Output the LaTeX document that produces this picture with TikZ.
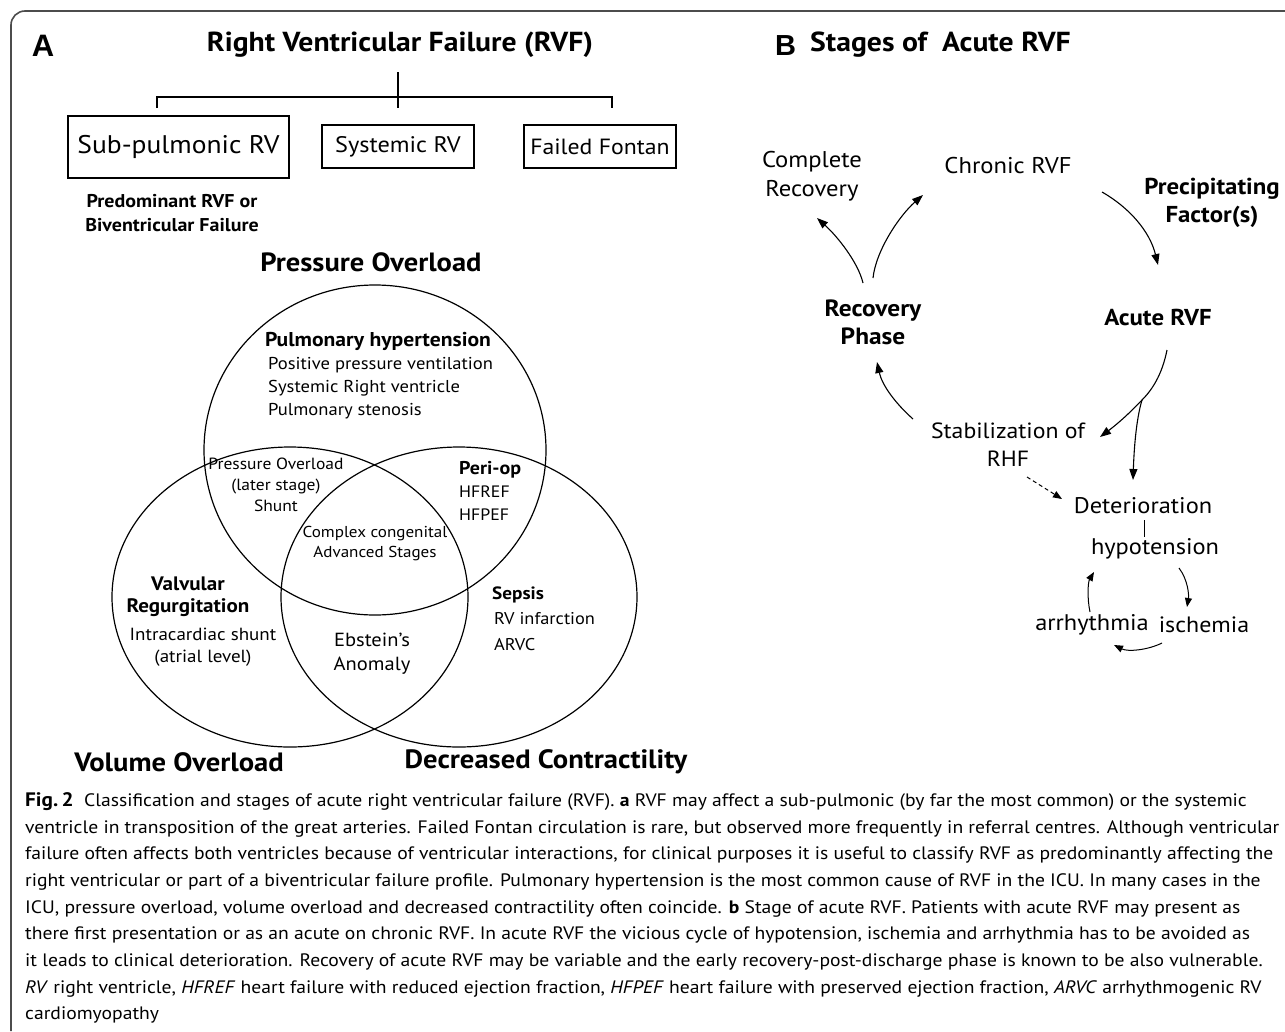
\documentclass[tikz,border=0pt]{standalone}
\usepackage{fontspec}
\setmainfont{PT Sans}[FakeStretch=1.08]
\newfontfamily\capf{PT Sans}[FakeStretch=1.09]
\newfontfamily\arialf{Liberation Sans}
\usetikzlibrary{arrows.meta}
\tikzset{
  txt/.style={inner sep=0pt, align=center, font=\fontsize{#1}{\fpeval{1.3*#1}}\selectfont},
  btxt/.style={inner sep=0pt, align=center, font=\fontsize{#1}{\fpeval{1.3*#1}}\selectfont\bfseries},
  captxt/.style={inner sep=0pt, anchor=base west, font=\capf\fontsize{18}{22}\selectfont},
  boxA/.style={draw, line width=1.1pt, inner sep=0pt},
  venn/.style={draw, line width=1.2pt},
  arr/.style={line width=1.1pt, -{Triangle[length=11pt,width=8pt]}},
  treeline/.style={line width=1.4pt},
  framel/.style={draw=black!70, line width=1.6pt}
}
\begin{document}
\begin{tikzpicture}[x=1pt,y=-1pt]
\useasboundingbox (0,0) rectangle (1285,1031);
% frame
\draw[framel] (11,1031) -- (11,25) arc[start angle=180,end angle=90,x radius=14,y radius=-14] -- (1290,11);

% ---------------- Panel A ----------------
\node[inner sep=0pt, font=\arialf\bfseries\fontsize{31}{31}\selectfont] (la) at (43,46) {A};
\node[btxt=27.5] (rvf) at (400,45) {Right Ventricular Failure (RVF)};
\coordinate (t0) at (398,72);
\coordinate (tl) at (157,97);
\coordinate (tr) at (612,97);
\coordinate (tlb) at (157,108);
\coordinate (trb) at (612,108);
\coordinate (tmb) at (398,108);
\draw[treeline] (t0) -- (tmb);
\draw[treeline] (tlb) -- (tl) -- (tr) -- (trb);

\node[boxA, minimum width=221pt, minimum height=62pt, txt=25.5] (sub) at (178.5,147) {Sub-pulmonic RV};
\node[boxA, minimum width=152pt, minimum height=43pt, txt=22.5] (sys) at (398,146.5) {Systemic RV};
\node[boxA, minimum width=152pt, minimum height=43pt, txt=22] (fon) at (600,146.5) {Failed Fontan};
\node[inner sep=0pt, align=center, font=\fontsize{18.5}{24}\selectfont\bfseries] (pred) at (172,213) {Predominant RVF or\\Biventricular Failure};

\node[btxt=26.4] (po) at (371,262) {Pressure Overload};

% Venn
\draw[venn] (375,450) ellipse [x radius=171, y radius=165];
\draw[venn] (290,597) ellipse [x radius=178, y radius=150];
\draw[venn] (459,597) ellipse [x radius=178, y radius=150];

\node[btxt=20] (ph) at (378,341) {Pulmonary hypertension};
\node[txt=17.2, anchor=west] (ppv) at (268,365) {Positive pressure ventilation};
\node[txt=17.2, anchor=west] (srv) at (268,388) {Systemic Right ventricle};
\node[txt=17.2, anchor=west] (ps) at (268,411) {Pulmonary stenosis};

\node[inner sep=0pt, align=center, font=\fontsize{16.2}{21}\selectfont] (pols) at (276,485) {Pressure Overload\\(later stage)\\Shunt};
\node[btxt=18.5, anchor=west] (periop) at (459,470) {Peri-op};
\node[txt=16.5, anchor=west] (hfref) at (459,492) {HFREF};
\node[txt=16.5, anchor=west] (hfpef) at (459,515) {HFPEF};
\node[inner sep=0pt, align=center, font=\fontsize{15.8}{20}\selectfont] (cc) at (375,544) {Complex congenital\\Advanced Stages};

\node[inner sep=0pt, align=center, font=\fontsize{19.5}{22}\selectfont\bfseries] (vr) at (188,597) {Valvular\\Regurgitation};
\node[inner sep=0pt, align=center, font=\fontsize{17.6}{22}\selectfont] (ics) at (203,647) {Intracardiac shunt\\(atrial level)};
\node[inner sep=0pt, align=center, font=\fontsize{19}{24}\selectfont] (eb) at (372,654) {Ebstein's\\Anomaly};
\node[btxt=17.8, anchor=west] (sep) at (492,595) {Sepsis};
\node[txt=17, anchor=west] (rvi) at (494,619) {RV infarction};
\node[txt=17, anchor=west] (arvc) at (494,645) {ARVC};

\node[btxt=26.5] (vo) at (179,762) {Volume Overload};
\node[btxt=26.5] (dc) at (546,762) {Decreased Contractility};

% ---------------- Panel B ----------------
\node[inner sep=0pt, anchor=west, font=\arialf\bfseries\fontsize{29}{29}\selectfont] (lb) at (775,46) {B};
\node[btxt=27.5, anchor=west] (stg) at (810,45) {Stages of\ \ Acute RVF};

\node[inner sep=0pt, align=center, font=\fontsize{22.8}{29}\selectfont] (cr) at (812,176) {Complete\\Recovery};
\node[txt=22.8] (chr) at (1008,166) {Chronic RVF};
\node[inner sep=0pt, align=center, font=\fontsize{23}{28}\selectfont\bfseries] (pf) at (1212,203) {Precipitating\\Factor(s)};
\node[inner sep=0pt, align=center, font=\fontsize{23.5}{28}\selectfont\bfseries] (rp) at (873,322) {Recovery\\Phase};
\node[btxt=23] (acute) at (1158,317) {Acute RVF};
\node[inner sep=0pt, align=center, font=\fontsize{22}{28}\selectfont] (stab) at (1008,445) {Stabilization of\\RHF};
\node[txt=22.6] (det) at (1143,506) {Deterioration};
\node[txt=22.6] (hypo) at (1155,549) {hypotension};
\node[txt=22.6] (arrh) at (1092,625) {arrhythmia};
\node[txt=22.2] (isch) at (1204,625) {ischemia};

% arrow end points
\coordinate (rpA) at (863,283);
\coordinate (crH) at (817,218);
\coordinate (rpB) at (873,278);
\coordinate (chH) at (923,195);
\coordinate (chT) at (1102,192);
\coordinate (acH) at (1158,265);
\coordinate (acT) at (1167,350);
\coordinate (br) at (1142,400);
\coordinate (stH) at (1100,437);
\coordinate (deH) at (1133,480);
\coordinate (stT) at (913,419);
\coordinate (rpH) at (877,362);
\coordinate (rhfT) at (1027,477);
\coordinate (deD) at (1062,499);
\coordinate (deB) at (1144,520);
\coordinate (hyT) at (1144,537);
\coordinate (hyR) at (1179,568);
\coordinate (isH) at (1187,607);
\coordinate (isT) at (1162,643);
\coordinate (arH) at (1114,645);
\coordinate (arT) at (1090,612);
\coordinate (hyH) at (1094,572);

\draw[arr] (rpA) .. controls (858,262) and (837,236) .. (crH);
\draw[arr] (rpB) .. controls (876,250) and (900,215) .. (chH);
\draw[arr] (chT) .. controls (1130,208) and (1150,232) .. (acH);
\draw[line width=1.1pt] (acT) .. controls (1162,375) and (1152,390) .. (br);
\draw[arr] (br) .. controls (1125,418) and (1112,428) .. (stH);
\draw[arr] (br) .. controls (1136,420) and (1134,450) .. (deH);
\draw[arr] (stT) .. controls (895,403) and (882,385) .. (rpH);
\draw[line width=1pt, dash pattern=on 4pt off 3pt, -{Triangle[length=9pt,width=7pt]}] (rhfT) -- (deD);
\draw[line width=0.8pt] (deB) -- (hyT);
\draw[line width=1pt, -{Triangle[length=9pt,width=7pt]}] (hyR) .. controls (1188,580) and (1189,595) .. (isH);
\draw[line width=1pt, -{Triangle[length=9pt,width=7pt]}] (isT) .. controls (1148,650) and (1128,652) .. (arH);
\draw[line width=1pt, -{Triangle[length=9pt,width=7pt]}] (arT) .. controls (1087,598) and (1088,582) .. (hyH);

% ---------------- Caption ----------------
\node[captxt] (c1) at (25,806) {{\fontsize{19.5}{22}\selectfont\bfseries Fig.\,2}\ \ Classification and stages of acute right ventricular failure (RVF). \textbf{a} RVF may affect a sub-pulmonic (by far the most common) or the systemic};
\node[captxt] (c2) at (25,833) {ventricle in transposition of the great arteries. Failed Fontan circulation is rare, but observed more frequently in referral centres. Although ventricular};
\node[captxt] (c3) at (25,859) {failure often affects both ventricles because of ventricular interactions, for clinical purposes it is useful to classify RVF as predominantly affecting the};
\node[captxt] (c4) at (25,886) {right ventricular or part of a biventricular failure profile. Pulmonary hypertension is the most common cause of RVF in the ICU. In many cases in the};
\node[captxt] (c5) at (25,913) {ICU, pressure overload, volume overload and decreased contractility often coincide. \textbf{b} Stage of acute RVF. Patients with acute RVF may present as};
\node[captxt] (c6) at (25,939) {there first presentation or as an acute on chronic RVF. In acute RVF the vicious cycle of hypotension, ischemia and arrhythmia has to be avoided as};
\node[captxt] (c7) at (25,966) {it leads to clinical deterioration. Recovery of acute RVF may be variable and the early recovery-post-discharge phase is known to be also vulnerable.};
\node[captxt] (c8) at (25,993) {\textit{RV} right ventricle, \textit{HFREF} heart failure with reduced ejection fraction, \textit{HFPEF} heart failure with preserved ejection fraction, \textit{ARVC} arrhythmogenic RV};
\node[captxt] (c9) at (25,1019) {cardiomyopathy};
\end{tikzpicture}
\end{document}
